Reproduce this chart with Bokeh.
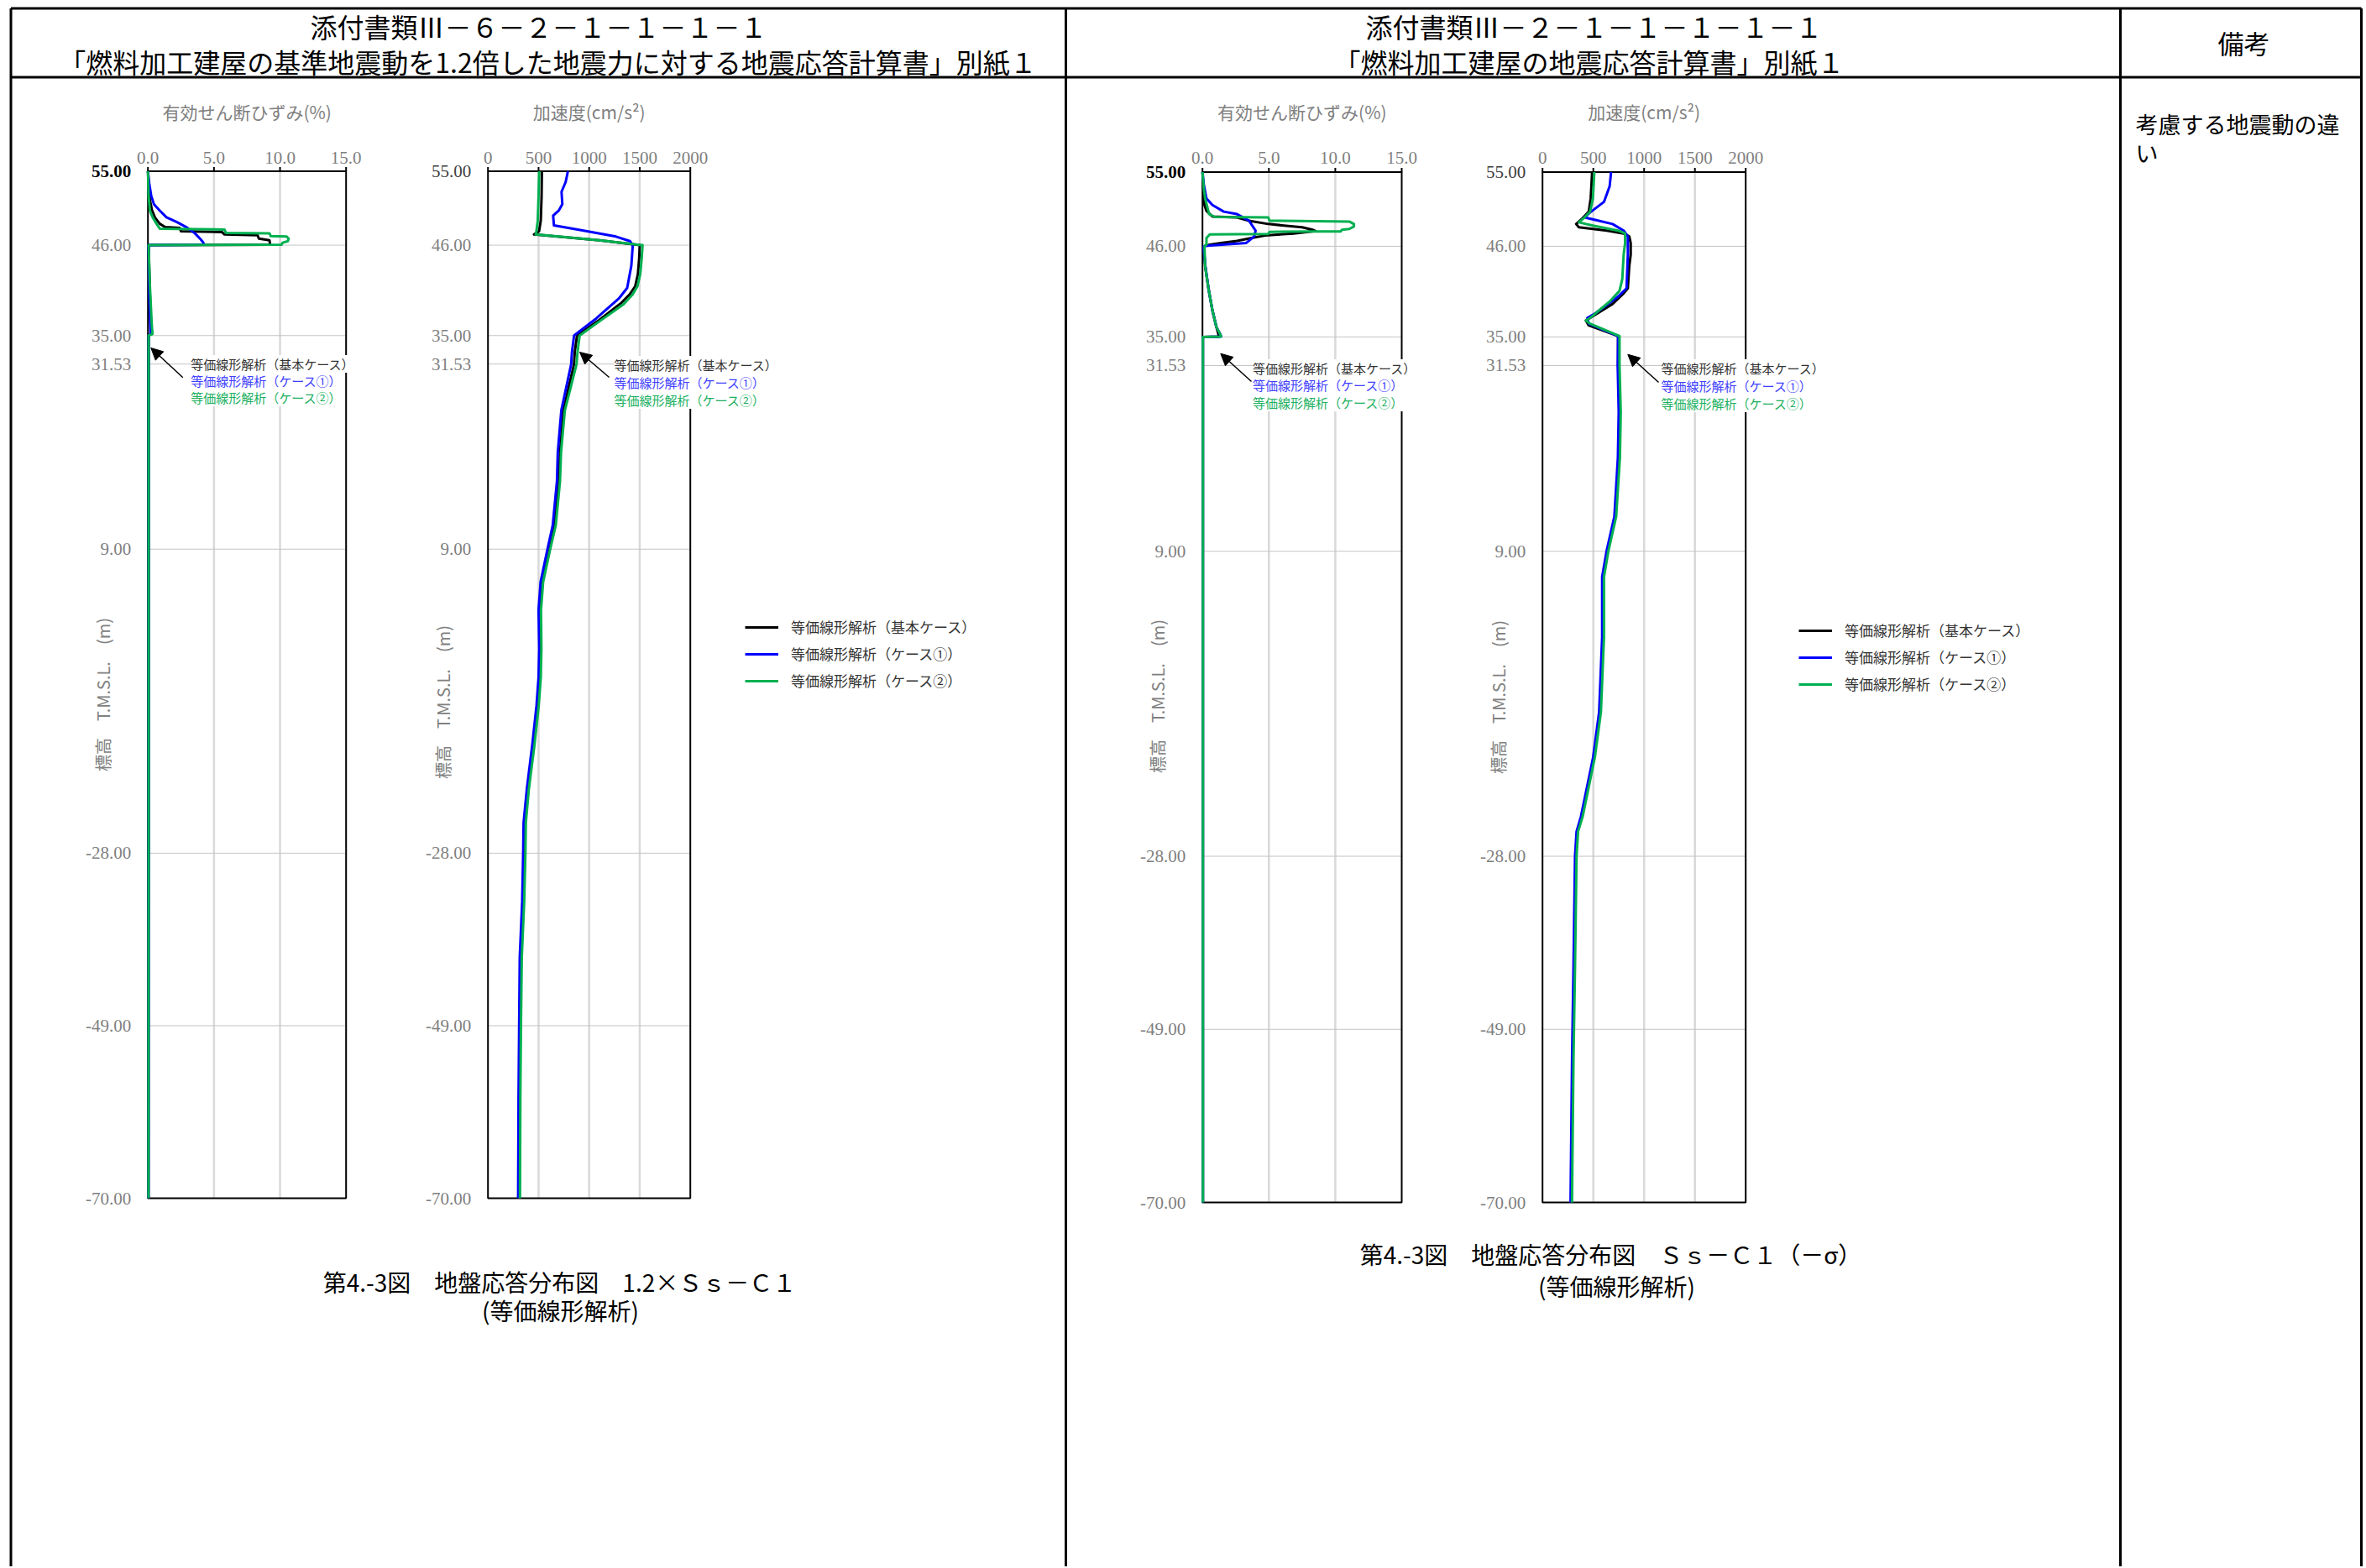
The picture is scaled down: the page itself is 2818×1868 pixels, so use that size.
import math
from bokeh.plotting import figure
from bokeh.models import Range1d, Label, Arrow, NormalHead, Legend, LegendItem
from bokeh.core.properties import value
from bokeh.embed import file_html
from bokeh.resources import INLINE

JP = "Noto Sans CJK JP"
NUM = "Liberation Serif"

# ---------------- texts / ticks ----------------
HEADER_LEFT = ["添付書類Ⅲ－６－２－１－１－１－１",
               "「燃料加工建屋の基準地震動を1.2倍した地震力に対する地震応答計算書」別紙１"]
HEADER_RIGHT = ["添付書類Ⅲ－２－１－１－１－１－１",
                "「燃料加工建屋の地震応答計算書」別紙１"]
HEADER_REMARK = "備考"
REMARK_TEXT = ["考慮する地震動の違", "い"]
CAPTION_LEFT = ["第4.-3図　地盤応答分布図　1.2×Ｓｓ－Ｃ１", "(等価線形解析)"]
CAPTION_RIGHT = ["第4.-3図　地盤応答分布図　Ｓｓ－Ｃ１（－σ）", "(等価線形解析)"]
TITLE_STRAIN = "有効せん断ひずみ(%)"
TITLE_ACC = "加速度(cm/s²)"
YLABEL = "標高　T.M.S.L.　(m)"
SERIES_NAMES = ["等価線形解析（基本ケース）", "等価線形解析（ケース①）", "等価線形解析（ケース②）"]

ELEV_TICKS = [55.0, 46.0, 35.0, 31.53, 9.0, -28.0, -49.0, -70.0]
ELEV_LABELS = ["55.00", "46.00", "35.00", "31.53", "9.00", "-28.00", "-49.00", "-70.00"]
STRAIN_TICKS = [0, 5, 10, 15]
STRAIN_LABELS = ["0.0", "5.0", "10.0", "15.0"]
ACC_TICKS = [0, 500, 1000, 1500, 2000]
ACC_LABELS = ["0", "500", "1000", "1500", "2000"]

# ---------------- data: 1.2 x Ss-C1 (left) ----------------
L_STR_BASE_X = [0.00, 0.05, 0.15, 0.30, 0.55, 0.90, 1.30, 2.40, 2.50, 5.60, 5.80, 8.30, 8.40, 9.20, 9.25, 0.05, 0.15, 0.25, 0.05, 0.05, 0.05, 0.05, 0.04]
L_STR_BASE_Y = [55.0, 53.5, 51.5, 50.3, 49.3, 48.6, 48.2, 48.1, 47.7, 47.6, 47.3, 47.2, 46.8, 46.6, 46.05, 46.0, 40.0, 35.2, 35.0, 31.53, 9.0, -28.0, -70.0]
L_STR_C1_X = [0.00, 0.10, 0.25, 0.45, 0.90, 1.40, 2.20, 2.90, 3.55, 4.00, 4.20, 4.20, 0.05, 0.10, 0.20, 0.05, 0.05, 0.05, 0.05, 0.04]
L_STR_C1_Y = [55.0, 53.5, 52.0, 51.0, 50.2, 49.4, 48.8, 48.2, 47.45, 46.7, 46.3, 46.05, 46.0, 40.0, 35.2, 35.0, 31.53, 9.0, -28.0, -70.0]
L_STR_C2_X = [0.00, 0.05, 0.15, 0.35, 0.65, 0.90, 5.80, 5.90, 9.20, 9.30, 10.50, 10.65, 10.60, 10.20, 10.10, 0.05, 0.15, 0.30, 0.35, 0.05, 0.05, 0.05, 0.05, 0.04]
L_STR_C2_Y = [55.0, 52.0, 50.2, 49.4, 48.6, 48.0, 47.9, 47.5, 47.45, 47.1, 47.05, 46.8, 46.5, 46.3, 46.05, 46.0, 41.0, 36.0, 35.2, 35.0, 31.53, 9.0, -28.0, -70.0]

L_ACC_BASE_X = [533, 530, 522, 505, 455, 1100, 1500, 1495, 1482, 1455, 1400, 1320, 1100, 880, 858, 850, 745, 712, 700, 660, 610, 540, 516, 520, 514, 495, 452, 398, 368, 364, 352, 328, 320, 314, 310]
L_ACC_BASE_Y = [55.0, 52.0, 49.0, 47.7, 47.3, 46.6, 46.0, 44.5, 42.5, 41.0, 40.0, 39.0, 36.9, 35.0, 33.0, 31.5, 25.9, 20.8, 17.3, 11.9, 9.0, 5.0, 1.6, -3.1, -6.6, -10.0, -14.8, -20.2, -24.3, -28.0, -33.9, -40.7, -49.0, -57.7, -70.0]
L_ACC_C1_X = [790, 768, 727, 735, 699, 644, 652, 934, 1265, 1403, 1431, 1417, 1376, 1293, 1072, 851, 830, 822, 725, 690, 682, 640, 588, 520, 500, 506, 500, 480, 438, 384, 352, 348, 338, 314, 308, 302, 298]
L_ACC_C1_Y = [55.0, 53.7, 52.5, 51.0, 50.2, 49.6, 48.4, 47.8, 47.05, 46.5, 46.0, 43.5, 40.8, 39.5, 37.1, 35.0, 33.0, 31.5, 25.9, 20.8, 17.3, 11.9, 9.0, 5.0, 1.6, -3.1, -6.6, -10.0, -14.8, -20.2, -24.3, -28.0, -33.9, -40.7, -49.0, -57.7, -70.0]
L_ACC_C2_X = [506, 500, 492, 478, 472, 1100, 1528, 1520, 1505, 1478, 1430, 1340, 1110, 906, 885, 875, 760, 722, 712, 670, 615, 545, 524, 528, 522, 502, 460, 404, 374, 370, 358, 334, 326, 320, 316]
L_ACC_C2_Y = [55.0, 52.0, 49.0, 47.6, 47.3, 46.6, 46.0, 44.5, 42.5, 41.0, 40.0, 38.8, 36.8, 35.0, 33.0, 31.5, 25.9, 20.8, 17.3, 11.9, 9.0, 5.0, 1.6, -3.1, -6.6, -10.0, -14.8, -20.2, -24.3, -28.0, -33.9, -40.7, -49.0, -57.7, -70.0]

# ---------------- data: Ss-C1 (-sigma) (right) ----------------
R_STR_BASE_X = [0.00, 0.05, 0.15, 0.30, 0.75, 2.60, 3.50, 4.95, 7.50, 8.30, 8.50, 6.85, 4.70, 3.70, 2.60, 1.40, 0.55, 0.10, 0.20, 0.45, 0.75, 1.05, 1.20, 1.20, 0.03, 0.03, 0.03, 0.03, 0.03]
R_STR_BASE_Y = [55.0, 53.5, 51.0, 50.3, 49.6, 49.5, 49.1, 48.7, 48.3, 48.0, 47.85, 47.55, 47.3, 47.0, 46.65, 46.4, 46.2, 46.0, 43.6, 40.9, 38.2, 36.2, 35.3, 35.05, 35.0, 31.53, 9.0, -28.0, -70.0]
R_STR_C1_X = [0.00, 0.10, 0.30, 0.75, 1.60, 2.60, 3.50, 4.00, 3.90, 3.30, 0.55, 0.10, 0.10, 0.22, 0.45, 0.75, 1.05, 1.35, 1.40, 0.03, 0.03, 0.03, 0.03, 0.03]
R_STR_C1_Y = [55.0, 53.5, 51.8, 51.0, 50.2, 49.9, 49.1, 47.9, 47.2, 46.4, 46.1, 46.0, 45.5, 43.6, 40.9, 38.2, 36.2, 35.3, 35.05, 35.0, 31.53, 9.0, -28.0, -70.0]
R_STR_C2_X = [0.00, 0.10, 0.20, 0.50, 0.95, 4.95, 5.05, 11.05, 11.40, 11.40, 11.05, 10.50, 10.40, 8.50, 5.05, 4.95, 0.55, 0.30, 0.30, 0.15, 0.20, 0.45, 0.75, 1.05, 1.35, 1.40, 0.03, 0.03, 0.03, 0.03, 0.03]
R_STR_C2_Y = [55.0, 53.0, 51.8, 49.9, 49.55, 49.5, 49.1, 49.0, 48.7, 48.4, 48.1, 48.0, 47.8, 47.8, 47.75, 47.5, 47.45, 47.0, 46.2, 46.0, 43.6, 40.9, 38.2, 36.2, 35.3, 35.05, 35.0, 31.53, 9.0, -28.0, -70.0]

R_ACC_BASE_X = [488, 482, 474, 455, 386, 331, 358, 634, 799, 854, 868, 868, 854, 840, 799, 689, 468, 427, 455, 744, 744, 745, 760, 752, 717, 640, 597, 597, 567, 508, 388, 343, 328, 313, 299, 284]
R_ACC_BASE_Y = [55.0, 53.5, 51.8, 50.2, 49.3, 48.7, 48.3, 47.9, 47.55, 47.2, 46.4, 45.0, 43.6, 40.9, 40.3, 39.0, 37.3, 37.0, 36.4, 35.1, 33.5, 31.5, 25.9, 20.4, 13.2, 9.0, 5.9, -1.4, -10.5, -16.0, -23.2, -25.0, -28.0, -41.4, -52.4, -70.0]
R_ACC_C1_X = [675, 661, 606, 468, 413, 520, 689, 799, 840, 840, 827, 744, 523, 441, 455, 744, 740, 750, 742, 707, 630, 587, 587, 557, 498, 378, 335, 320, 305, 291, 276]
R_ACC_C1_Y = [55.0, 53.3, 51.4, 50.1, 49.5, 49.2, 48.7, 47.9, 47.2, 45.0, 40.9, 39.9, 37.9, 37.3, 36.6, 35.1, 31.5, 25.9, 20.4, 13.2, 9.0, 5.9, -1.4, -10.5, -16.0, -23.2, -25.0, -28.0, -41.4, -52.4, -70.0]
R_ACC_C2_X = [510, 496, 468, 413, 358, 496, 744, 813, 813, 799, 785, 758, 661, 468, 427, 468, 758, 758, 770, 762, 725, 648, 605, 605, 575, 515, 395, 350, 335, 320, 305, 290]
R_ACC_C2_Y = [55.0, 51.8, 50.2, 49.5, 48.9, 48.5, 47.9, 47.55, 46.4, 45.0, 42.0, 40.6, 39.3, 37.3, 37.0, 36.6, 35.1, 31.5, 25.9, 20.4, 13.2, 9.0, 5.9, -1.4, -10.5, -16.0, -23.2, -25.0, -28.0, -41.4, -52.4, -70.0]

SERIES_COLORS = ["#000000", "#0000ff", "#00b050"]
ANN_COLORS = ["#333333", "#4040ff", "#20b060"]

# ---------------- page figure ----------------
W, H = 2816, 1866
p = figure(width=W, height=H, x_range=Range1d(0, W), y_range=Range1d(H, 0),
           output_backend="svg", toolbar_location=None,
           x_axis_location=None, y_axis_location=None,
           min_border=0, outline_line_color=None, title=None)
p.background_fill_color = "white"
p.border_fill_color = "white"
p.xgrid.visible = False
p.ygrid.visible = False


def put_text(xs, ys, texts, size, color="black", font=JP, align="center",
             baseline="middle", angle=0.0, style="normal", xr="default", yr="default"):
    p.text(x=xs, y=ys, text=texts, text_font=value(font), text_font_size=value(f"{size}px"),
           text_color=color, text_align=align, text_baseline=baseline, angle=angle,
           text_font_style=value(style), x_range_name=xr, y_range_name=yr)


# table lines (page decoration)
LINE_X = [12.5, 1269.0, 2525.0, 2812.0]
p.segment(x0=[12.5, 12.5], y0=[9.5, 91.5], x1=[2812.0, 2812.0], y1=[9.5, 91.5],
          line_color="black", line_width=3)
p.segment(x0=LINE_X, y0=[9.5] * 4, x1=LINE_X, y1=[H] * 4, line_color="black", line_width=3)

# headers
put_text([641, 652], [30.5, 72], HEADER_LEFT, 32)
put_text([1898, 1892], [30.5, 72], HEADER_RIGHT, 32)
put_text([2672], [50], [HEADER_REMARK], 31)
put_text([2543, 2543], [147, 181], REMARK_TEXT, 27, align="left")

# captions
put_text([666, 667], [1526, 1560], CAPTION_LEFT, 28)
put_text([1918, 1925], [1493, 1531], CAPTION_RIGHT, 28)

# panels: pixel frame (left, right, top, bottom) and value ranges
PANELS = {
    "LS": (175.7, 411.7, 203.5, 1427.0, 0, 15),
    "LA": (580.7, 821.7, 203.5, 1427.0, 0, 2000),
    "RS": (1431.7, 1669.0, 204.5, 1432.0, 0, 15),
    "RA": (1836.7, 2078.7, 204.5, 1432.0, 0, 2000),
}
YTOP, YBOT = 55.0, -70.0

for name, (pl, pr, pt, pb, x0, x1) in PANELS.items():
    sx = (x1 - x0) / (pr - pl)
    p.extra_x_ranges[name] = Range1d(start=x0 - pl * sx, end=x0 + (W - pl) * sx)
    sy = (YTOP - YBOT) / (pb - pt)
    p.extra_y_ranges[name] = Range1d(start=YTOP - (H - pt) * sy, end=YTOP + pt * sy)


def draw_panel(name, xticks, xlabels, title, ylabel_xy, bold_top):
    pl, pr, pt, pb, x0, x1 = PANELS[name]
    sy = (YTOP - YBOT) / (pb - pt)
    inner = xticks[1:-1]
    p.segment(x0=inner, y0=[YBOT] * len(inner), x1=inner, y1=[YTOP] * len(inner),
              line_color="#d9d9d9", line_width=2.5, x_range_name=name, y_range_name=name)
    yin = ELEV_TICKS[1:-1]
    p.segment(x0=[x0] * len(yin), y0=yin, x1=[x1] * len(yin), y1=yin,
              line_color="#c4c4c4", line_width=1, x_range_name=name, y_range_name=name)
    p.quad(left=[x0], right=[x1], top=[YTOP], bottom=[YBOT], fill_color=None,
           line_color="black", line_width=2, x_range_name=name, y_range_name=name)
    tl = 5 * sy
    p.segment(x0=xticks, y0=[YTOP] * len(xticks), x1=xticks, y1=[YTOP + tl] * len(xticks),
              line_color="black", line_width=2, x_range_name=name, y_range_name=name)
    put_text(xticks, [187] * len(xticks), xlabels, 21, color="#7f7f7f", font=NUM, xr=name)
    put_text([(x0 + x1) / 2], [132], [title], 21, color="#808080", xr=name)
    n = len(ELEV_TICKS) - 1
    put_text([pl - 20] * n, ELEV_TICKS[1:], ELEV_LABELS[1:], 21, color="#7f7f7f",
             font=NUM, align="right", yr=name)
    if bold_top:
        put_text([pl - 20], ELEV_TICKS[:1], ELEV_LABELS[:1], 21, color="black",
                 font=NUM, align="right", style="bold", yr=name)
    else:
        put_text([pl - 20], ELEV_TICKS[:1], ELEV_LABELS[:1], 21, color="#404040",
                 font=NUM, align="right", yr=name)
    put_text([ylabel_xy[0]], [ylabel_xy[1]], [YLABEL], 20, color="#808080", angle=math.pi / 2)


draw_panel("LS", STRAIN_TICKS, STRAIN_LABELS, TITLE_STRAIN, (122, 827), True)
draw_panel("LA", ACC_TICKS, ACC_LABELS, TITLE_ACC, (527, 836), False)
draw_panel("RS", STRAIN_TICKS, STRAIN_LABELS, TITLE_STRAIN, (1378, 829), True)
draw_panel("RA", ACC_TICKS, ACC_LABELS, TITLE_ACC, (1784, 830), False)

SERIES = {
    "LS": [(L_STR_BASE_X, L_STR_BASE_Y), (L_STR_C1_X, L_STR_C1_Y), (L_STR_C2_X, L_STR_C2_Y)],
    "LA": [(L_ACC_BASE_X, L_ACC_BASE_Y), (L_ACC_C1_X, L_ACC_C1_Y), (L_ACC_C2_X, L_ACC_C2_Y)],
    "RS": [(R_STR_BASE_X, R_STR_BASE_Y), (R_STR_C1_X, R_STR_C1_Y), (R_STR_C2_X, R_STR_C2_Y)],
    "RA": [(R_ACC_BASE_X, R_ACC_BASE_Y), (R_ACC_C1_X, R_ACC_C1_Y), (R_ACC_C2_X, R_ACC_C2_Y)],
}
RENDERERS = {}
for name, series in SERIES.items():
    rs = []
    for (xs, ys), col in zip(series, SERIES_COLORS):
        r = p.line(x=xs, y=ys, line_color=col, line_width=3, line_join="round",
                   x_range_name=name, y_range_name=name)
        rs.append(r)
    RENDERERS[name] = rs

# arrow annotations (tip, tail, text start, text rows)
ANNOTATIONS = [
    ((179.3, 414.0), (217.3, 449.3), 226.7, [433, 453, 473]),
    ((690.0, 419.0), (725.0, 449.0), 731.0, [434, 455, 476]),
    ((1453.3, 420.7), (1490.0, 454.0), 1491.5, [438, 458, 479]),
    ((1938.3, 421.7), (1975.0, 455.0), 1978.0, [438, 459, 480]),
]
for tip, tail, tx, rows in ANNOTATIONS:
    p.add_layout(Arrow(end=NormalHead(size=14, fill_color="black", line_color="black"),
                       x_start=tail[0], y_start=tail[1], x_end=tip[0], y_end=tip[1],
                       line_color="black", line_width=1.5))
    for ty, label, col in zip(rows, SERIES_NAMES, ANN_COLORS):
        p.add_layout(Label(x=tx, y=ty, text=label, text_color=col, text_font=JP,
                           text_font_size="15px", text_baseline="middle",
                           background_fill_color="white"))

# legends (rows: 24 px tall + 7 px spacing; location is bottom-left in screen units)
for name, (vx, first_row) in {"LA": (887, 749.3), "RA": (2142, 753.0)}.items():
    items = [LegendItem(label=lab, renderers=[r]) for lab, r in zip(SERIES_NAMES, RENDERERS[name])]
    bottom = first_row - 12 + 3 * 24 + 2 * 7
    leg = Legend(items=items, location=(vx, H - bottom), glyph_width=40, glyph_height=20,
                 label_height=20, spacing=7, padding=0, margin=0, label_standoff=15,
                 label_text_font=JP, label_text_font_size="17px", label_text_color="#333333",
                 border_line_color=None, background_fill_alpha=0)
    p.add_layout(leg)

open("out.html", "w").write(file_html(p, INLINE))
